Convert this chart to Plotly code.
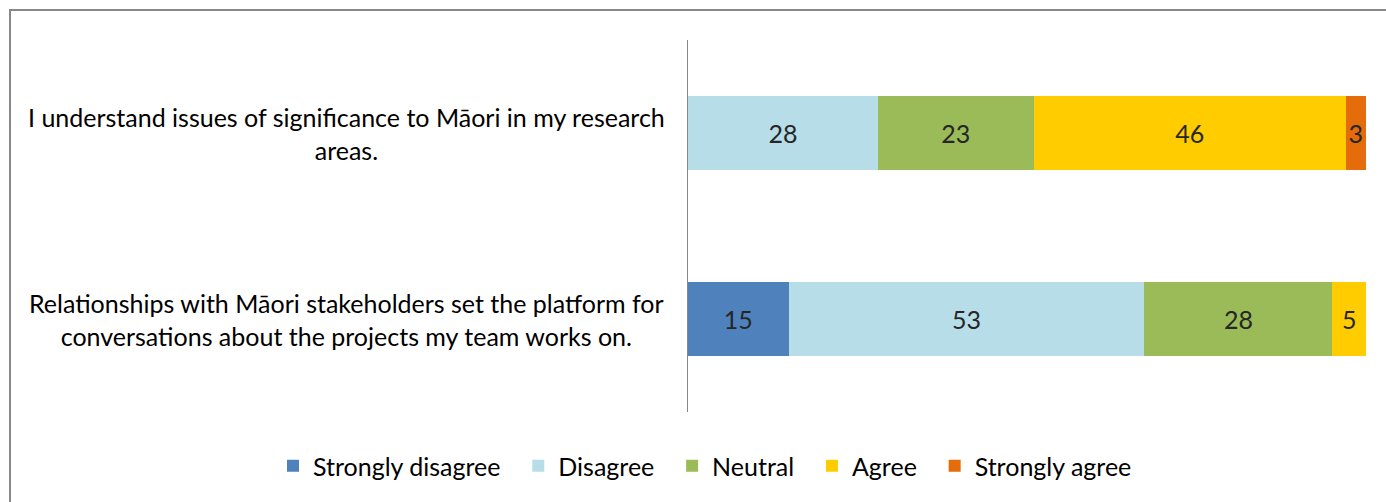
import plotly.graph_objects as go

categories = [
    "I understand issues of significance to Māori in my research<br>areas.",
    "Relationships with Māori stakeholders set the platform for<br>conversations about the projects my team works on.",
]
series_names = ["Strongly disagree", "Disagree", "Neutral", "Agree", "Strongly agree"]
strongly_disagree = [None, 15]
disagree = [28, 53]
neutral = [23, 28]
agree = [46, 5]
strongly_agree = [3, None]
colors = ["#4F81BD", "#B7DEE8", "#9BBB59", "#FFCC00", "#E46C0A"]

series_values = [strongly_disagree, disagree, neutral, agree, strongly_agree]

FONT = "Lato"
FS = 25
PAD = "\u00a0\u00a0"  # extra spacing between legend entries
fig = go.Figure()
for name, vals, col in zip(series_names, series_values, colors):
    fig.add_trace(go.Bar(
        y=categories, x=vals, name=name + PAD, orientation="h",
        marker=dict(color=col, line=dict(width=0)),
        text=[("" if v is None else str(v)) for v in vals],
        texttemplate="%{text}", textposition="inside",
        insidetextanchor="middle", textangle=0,
        textfont=dict(family=FONT, size=FS, color="#262626"),
        hoverinfo="skip",
    ))

W, H = 1386, 502
ml, mr, mt, mb = 688, 20, 40, 90
pw = W - ml - mr
ph = H - mt - mb

for c in categories:
    fig.add_annotation(
        x=(346 - ml) / pw, xref="paper", y=c, yref="y",
        text=c, showarrow=False, align="center",
        xanchor="center", yanchor="middle",
        font=dict(family=FONT, size=FS, color="#000000"),
    )

# chart border
fig.add_shape(type="rect", xref="paper", yref="paper",
              x0=(10 - ml) / pw, x1=(W + 20 - ml) / pw,
              y0=(H - mb - (H + 20)) / ph, y1=(H - mb - 10) / ph,
              line=dict(color="#888888", width=2), fillcolor="rgba(0,0,0,0)", layer="below")

fig.update_layout(
    width=W, height=H,
    margin=dict(l=ml, r=mr, t=mt, b=mb, autoexpand=False),
    barmode="stack", barnorm="percent", bargap=0.6,
    paper_bgcolor="white", plot_bgcolor="white",
    uniformtext=dict(minsize=FS, mode="show"),
    xaxis=dict(range=[0, 100], visible=False, fixedrange=True),
    yaxis=dict(categoryorder="array", categoryarray=categories[::-1],
               showticklabels=False, showgrid=False, zeroline=False,
               showline=True, linecolor="#868686", linewidth=1, ticks=""),
    legend=dict(orientation="h",
                x=(273 - ml) / pw, xanchor="left",
                y=(H - mb - 466) / ph, yanchor="middle",
                font=dict(family=FONT, size=FS, color="#000000"),
                itemwidth=30, traceorder="normal"),
    showlegend=True,
)

fig.write_html("out.html")
